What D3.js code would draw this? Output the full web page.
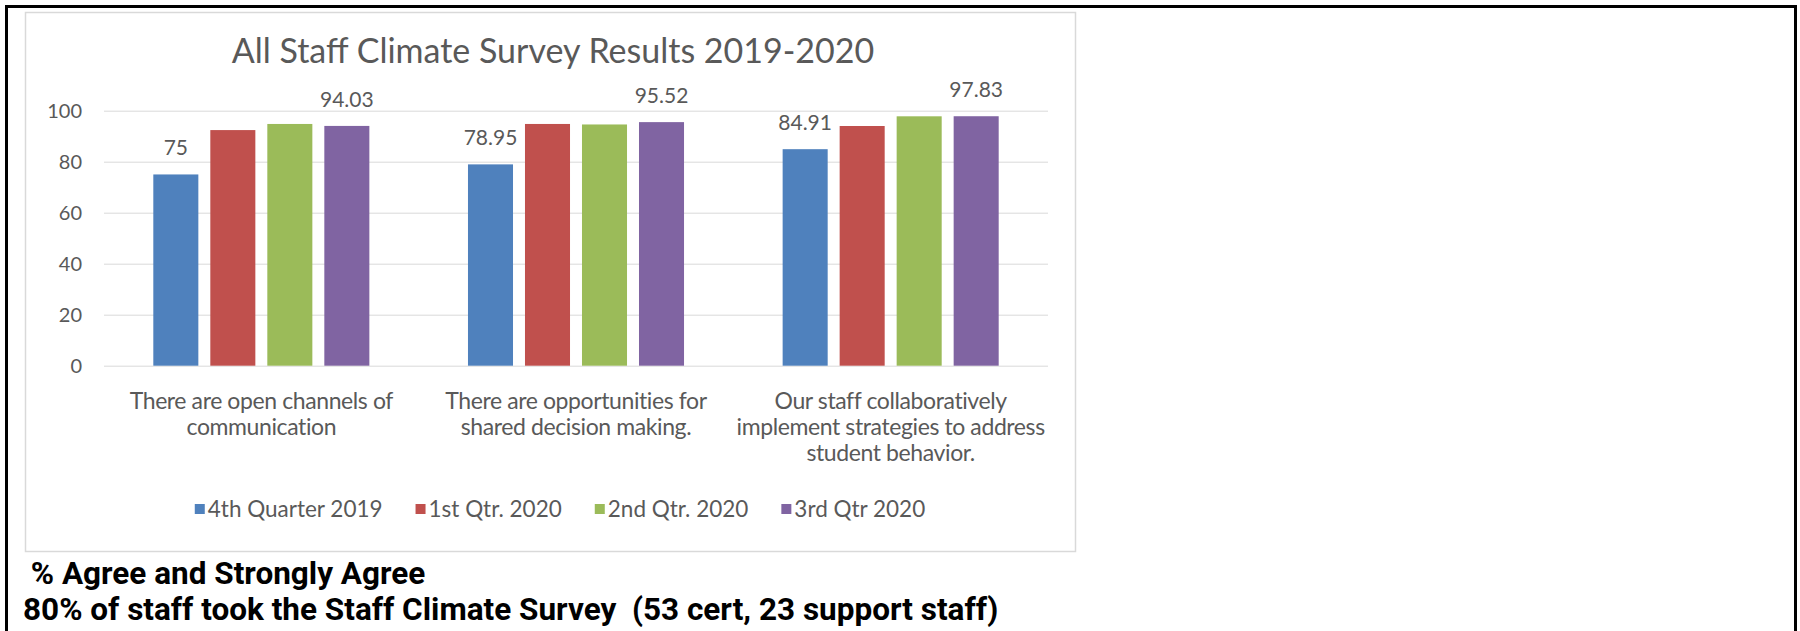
<!DOCTYPE html>
<html lang="en">
<head>
<meta charset="utf-8">
<title>All Staff Climate Survey Results 2019-2020</title>
<script src="https://d3js.org/d3.v7.min.js"></script>
<style>
  body { margin:0; background:#fff; }
  svg { display:block; }
  .tick line { stroke:#d9d9d9; stroke-width:1px; }
  .tick text { fill:#595959; font-family:Lato, sans-serif; font-size:20px; }
  .cat { fill:#595959; font-family:Lato, sans-serif; font-size:23px; letter-spacing:-0.4px; }
  .lbl { fill:#595959; font-family:Lato, sans-serif; font-size:21px; }
  .leg { fill:#595959; font-family:Lato, sans-serif; font-size:22.5px; }
  .note { fill:#000; font-family:Roboto, sans-serif; font-weight:bold; font-size:31.5px; white-space:pre; }
</style>
</head>
<body>
<svg width="1800" height="631"></svg>
<script>
var categories = [
  "There are open channels of\ncommunication",
  "There are opportunities for\nshared decision making.",
  "Our staff collaboratively\nimplement strategies to address\nstudent behavior."
];
var series = ["4th Quarter 2019", "1st Qtr. 2020", "2nd Qtr. 2020", "3rd Qtr 2020"];
var q4_2019 = [75, 78.95, 84.91];
var q1_2020 = [92.4, 94.8, 94.0];
var q2_2020 = [94.8, 94.6, 97.8];
var q3_2020 = [94.03, 95.52, 97.83];
var labelledSeries = ["4th Quarter 2019", "3rd Qtr 2020"];
var yTicks = [0, 20, 40, 60, 80, 100];
var colors = ["#4f81bd", "#c0504d", "#9bbb59", "#8064a2"];
var title = "All Staff Climate Survey Results 2019-2020";
var notes = [" % Agree and Strongly Agree", "80% of staff took the Staff Climate Survey  (53 cert, 23 support staff)"];

var values = [q4_2019, q1_2020, q2_2020, q3_2020];
var svg = d3.select("svg");

// page frame + chart frame
svg.append("rect").attr("x", 6.5).attr("y", 6.5).attr("width", 1789).attr("height", 700)
  .attr("fill", "none").attr("stroke", "#000").attr("stroke-width", 3);
svg.append("rect").attr("x", 25.5).attr("y", 12.5).attr("width", 1050).attr("height", 539)
  .attr("fill", "#fff").attr("stroke", "#d9d9d9").attr("stroke-width", 1.5);

var x0 = d3.scaleBand().domain(categories).range([104, 1048]);
var x1 = d3.scaleBand().domain(series).range([0, x0.bandwidth()]).paddingInner(0.21).paddingOuter(0.865);
var y = d3.scaleLinear().domain([0, 100]).range([365.7, 110.7]);
var color = d3.scaleOrdinal().domain(series).range(colors);

svg.append("text").attr("x", 553).attr("y", 63).attr("text-anchor", "middle")
  .style("font-family", "Lato, sans-serif").style("font-size", "34px").style("fill", "#595959")
  .text(title);

var yAxis = svg.append("g").attr("transform", "translate(104,0)")
  .call(d3.axisLeft(y).tickValues(yTicks).tickSize(-944).tickPadding(22));
yAxis.select(".domain").remove();
yAxis.selectAll(".tick text").attr("dy", "0.35em");

var groups = svg.append("g").selectAll("g").data(categories).join("g")
  .attr("transform", function(d) { return "translate(" + x0(d) + ",0)"; });

groups.selectAll("rect")
  .data(function(d, ci) { return series.map(function(s, si) { return {s: s, v: values[si][ci]}; }); })
  .join("rect")
  .attr("x", function(d) { return x1(d.s); })
  .attr("y", function(d) { return y(d.v); })
  .attr("width", x1.bandwidth())
  .attr("height", function(d) { return y(0) - y(d.v); })
  .attr("fill", function(d) { return color(d.s); });

groups.selectAll("text.lbl")
  .data(function(d, ci) {
    return series.map(function(s, si) { return {s: s, v: values[si][ci]}; })
      .filter(function(d) { return labelledSeries.indexOf(d.s) >= 0; });
  })
  .join("text").attr("class", "lbl")
  .attr("x", function(d) { return x1(d.s) + x1.bandwidth() / 2; })
  .attr("y", function(d) { return y(d.v) - 19; })
  .attr("text-anchor", "middle")
  .text(function(d) { return d.v; });

// category labels
svg.append("g").selectAll("text").data(categories).join("text")
  .attr("class", "cat").attr("text-anchor", "middle")
  .attr("transform", function(d) { return "translate(" + (x0(d) + x0.bandwidth() / 2) + ",409)"; })
  .selectAll("tspan").data(function(d) { return d.split("\n"); }).join("tspan")
  .attr("x", 0).attr("y", function(d, i) { return i * 26; })
  .text(function(d) { return d; });

// legend
var legend = svg.append("g");
var lx = 0;
series.forEach(function(s, i) {
  var it = legend.append("g").attr("transform", "translate(" + lx + ",0)");
  it.append("rect").attr("x", 0).attr("y", -5).attr("width", 10).attr("height", 10).attr("fill", colors[i]);
  var t = it.append("text").attr("class", "leg").attr("x", 13).attr("y", 8).text(s);
  lx += 13 + t.node().getComputedTextLength() + 33;
});
var lw = lx - 33;
legend.attr("transform", "translate(" + (560 - lw / 2) + ",509)");

// notes under the chart
svg.append("g").selectAll("text").data(notes).join("text")
  .attr("class", "note").attr("x", 23)
  .attr("y", function(d, i) { return 584 + i * 36; })
  .text(function(d) { return d; });
</script>
</body>
</html>
